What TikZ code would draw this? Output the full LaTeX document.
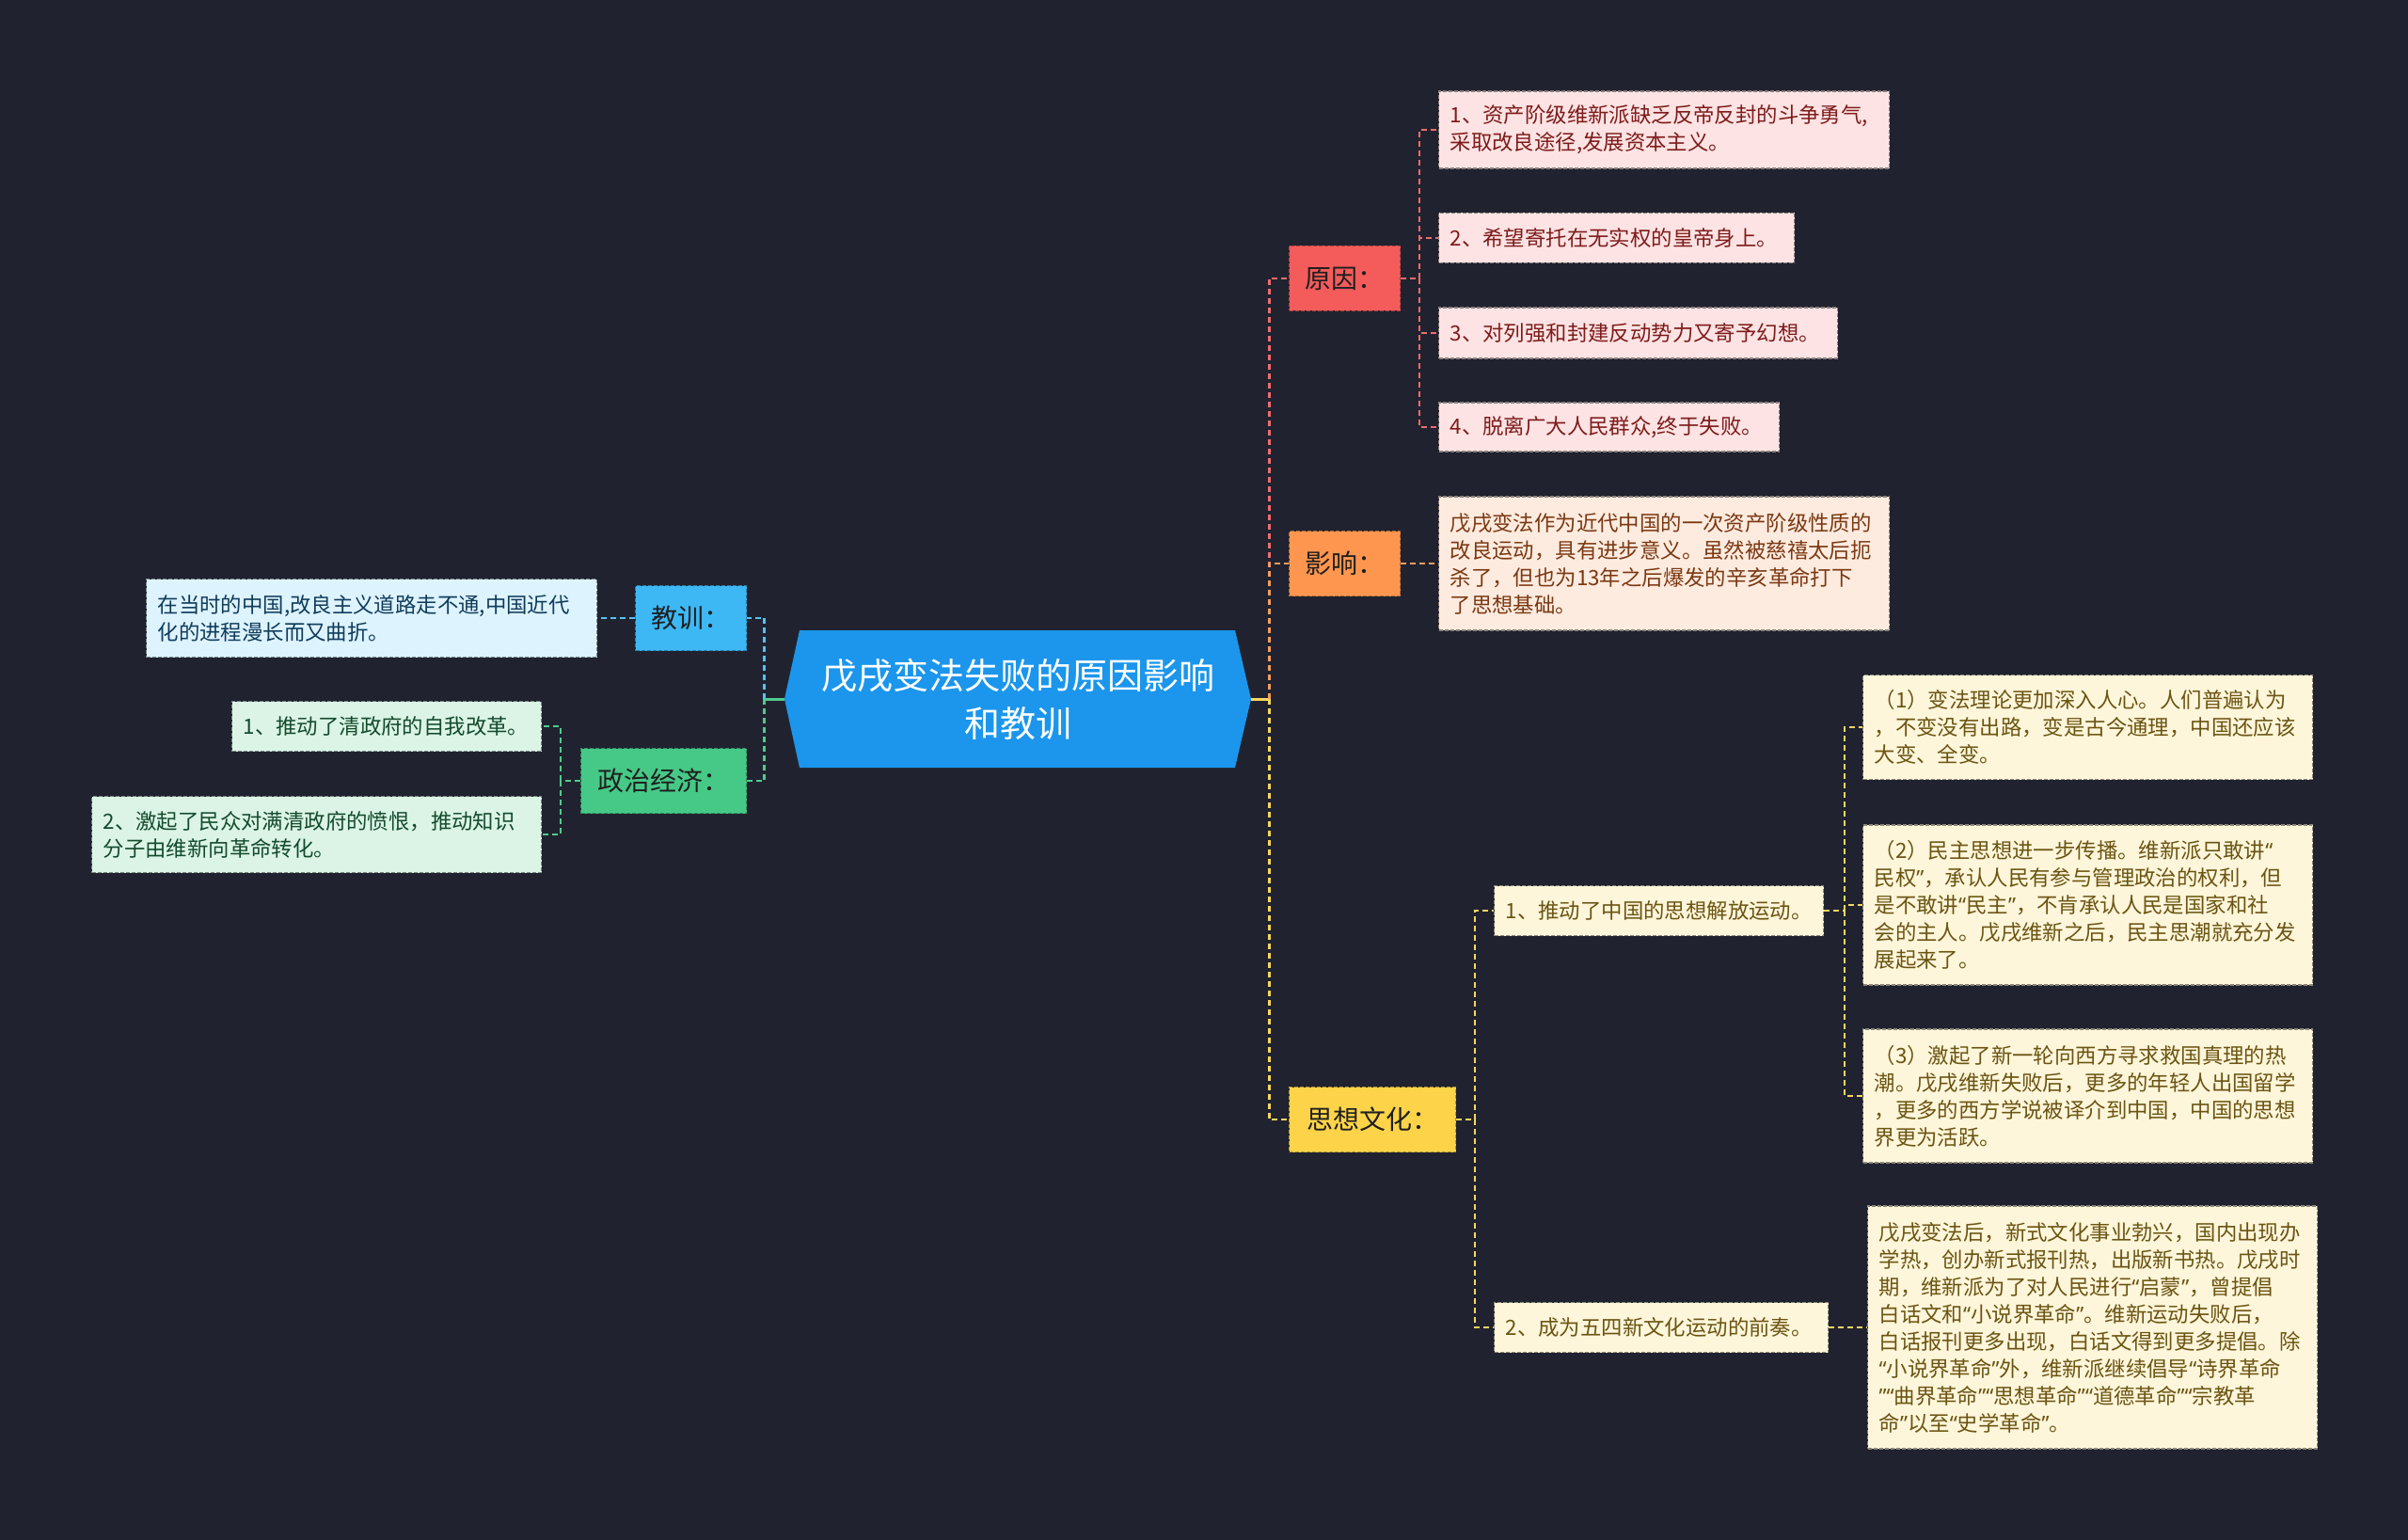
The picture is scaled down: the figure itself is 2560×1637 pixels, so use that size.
\documentclass[tikz,border=0pt]{standalone}
\usepackage{fontspec}
\newfontfamily\cjk{Noto Sans CJK SC}
\newfontfamily\latn{Noto Sans}
\newcommand\oq{{\latn “}}
\newcommand\cq{{\latn ”}}

\definecolor{bgcol}{HTML}{20232F}
\definecolor{rootfill}{HTML}{1B96EC}
\definecolor{rcol}{HTML}{F45B5B}
\definecolor{ocol}{HTML}{FF964F}
\definecolor{ycol}{HTML}{FDD449}
\definecolor{bcol}{HTML}{3DB8F5}
\definecolor{gcol}{HTML}{46C987}
\definecolor{rleaf}{HTML}{FDE3E3}
\definecolor{oleaf}{HTML}{FEEBDF}
\definecolor{yleaf}{HTML}{FEF6DA}
\definecolor{bleaf}{HTML}{DDF3FE}
\definecolor{gleaf}{HTML}{DBF4E6}
\definecolor{rtext}{HTML}{7E1B1B}
\definecolor{otext}{HTML}{7A3812}
\definecolor{ytext}{HTML}{6B5413}
\definecolor{btext}{HTML}{0F3B5B}
\definecolor{gtext}{HTML}{134A2D}
\definecolor{rline}{HTML}{F06C6C}
\definecolor{oline}{HTML}{F59D5E}
\definecolor{yline}{HTML}{F7D65E}
\definecolor{bline}{HTML}{55C2F5}
\definecolor{gline}{HTML}{50CB8E}
\definecolor{labtext}{HTML}{1F1F1F}

\tikzset{
  rootbox/.style={font=\cjk\fontsize{19}{25.5}\selectfont, text=white, align=center,
    minimum width=248pt, minimum height=73pt, inner sep=0pt},
  branch/.style={font=\cjk\fontsize{14}{17}\selectfont, text=labtext, anchor=west,
    inner sep=0pt, minimum height=34.5pt, fill=#1, draw=#1!70!black,
    line width=0.6pt, dash pattern=on 2pt off 1pt},
  leaf/.style 2 args={font=\cjk\fontsize{11.2}{14.5}\selectfont, align=left, anchor=west,
    inner xsep=6pt, inner ysep=0pt, fill=#1, draw=#1!55!black, text=#2,
    line width=0.6pt, dash pattern=on 2pt off 1pt},
  link/.style={line width=1.25pt, dash pattern=on 3pt off 2pt},
  trunk/.style={line width=1.5pt}
}

\begin{document}
\begin{tikzpicture}[x=0.5pt,y=-0.5pt]
    \fill[bgcol] (0,0) rectangle (2560,1637);
    \useasboundingbox (0,0) rectangle (2560,1637);
    % centro
    \fill[rootfill] (850,670) -- (1313,670) -- (1330,743) -- (1313,816) -- (850,816) -- (834,743) -- cycle;
    \node[rootbox] (root) at (1082,743) {戊戌变法失败的原因影响\\和教训};
    % ramos
    \node[branch=rcol, minimum width=59pt] (cause) at (1370,296) {原因：};
    \node[branch=ocol, minimum width=59pt] (impact) at (1370,599) {影响：};
    \node[branch=ycol, minimum width=88.5pt] (thought) at (1370,1190) {思想文化：};
    \node[branch=bcol, minimum width=59pt] (lesson) at (675,657) {教训：};
    \node[branch=gcol, minimum width=88pt] (polit) at (617,830) {政治经济：};
    % 原因
    \node[leaf={rleaf}{rtext}, text width=227.5pt, minimum height=41pt] (c1) at (1529,138) {1、资产阶级维新派缺乏反帝反封的斗争勇气,\\采取改良途径,发展资本主义。};
    \node[leaf={rleaf}{rtext}, text width=177pt, minimum height=26.5pt] (c2) at (1529,253) {2、希望寄托在无实权的皇帝身上。};
    \node[leaf={rleaf}{rtext}, text width=200pt, minimum height=27pt] (c3) at (1529,354) {3、对列强和封建反动势力又寄予幻想。};
    \node[leaf={rleaf}{rtext}, text width=169pt, minimum height=26pt] (c4) at (1529,454) {4、脱离广大人民群众,终于失败。};
    % 影响
    \node[leaf={oleaf}{otext}, text width=227.5pt, minimum height=71pt] (i1) at (1529,599) {戊戌变法作为近代中国的一次资产阶级性质的\\改良运动，具有进步意义。虽然被慈禧太后扼\\杀了，但也为13年之后爆发的辛亥革命打下\\了思想基础。};
    % 思想文化
    \node[leaf={yleaf}{ytext}, text width=163pt, minimum height=26.5pt] (tA) at (1588,968) {1、推动了中国的思想解放运动。};
    \node[leaf={yleaf}{ytext}, text width=165.5pt, minimum height=26.5pt] (tB) at (1588,1411) {2、成为五四新文化运动的前奏。};
    \node[leaf={yleaf}{ytext}, text width=227pt, minimum height=55.5pt] (a1) at (1980,773) {（1）变法理论更加深入人心。人们普遍认为\\，不变没有出路，变是古今通理，中国还应该\\大变、全变。};
    \node[leaf={yleaf}{ytext}, text width=227pt, minimum height=85pt] (a2) at (1980,962) {（2）民主思想进一步传播。维新派只敢讲\oq\\民权\cq，承认人民有参与管理政治的权利，但\\是不敢讲\oq 民主\cq，不肯承认人民是国家和社\\会的主人。戊戌维新之后，民主思潮就充分发\\展起来了。};
    \node[leaf={yleaf}{ytext}, text width=227pt, minimum height=71pt] (a3) at (1980,1165) {（3）激起了新一轮向西方寻求救国真理的热\\潮。戊戌维新失败后，更多的年轻人出国留学\\，更多的西方学说被译介到中国，中国的思想\\界更为活跃。};
    \node[leaf={yleaf}{ytext}, text width=227pt, minimum height=129pt] (b1) at (1985,1411) {戊戌变法后，新式文化事业勃兴，国内出现办\\学热，创办新式报刊热，出版新书热。戊戌时\\期，维新派为了对人民进行\oq 启蒙\cq，曾提倡\\白话文和\oq 小说界革命\cq。维新运动失败后，\\白话报刊更多出现，白话文得到更多提倡。除\\\oq 小说界革命\cq 外，维新派继续倡导\oq 诗界革命\\\cq\oq 曲界革命\cq\oq 思想革命\cq\oq 道德革命\cq\oq 宗教革\\命\cq 以至\oq 史学革命\cq。};
    % 教训
    \node[leaf={bleaf}{btext}, text width=227.5pt, minimum height=41.5pt] (l1) at (155,657) {在当时的中国,改良主义道路走不通,中国近代\\化的进程漫长而又曲折。};
    % 政治经济
    \node[leaf={gleaf}{gtext}, text width=152.5pt, minimum height=26.5pt] (p1) at (246,772) {1、推动了清政府的自我改革。};
    \node[leaf={gleaf}{gtext}, text width=227pt, minimum height=40.5pt] (p2) at (97,887) {2、激起了民众对满清政府的愤恨，推动知识\\分子由维新向革命转化。};
    % ligacoes direita
    \draw[trunk, yline] (root.east) -- ++(19,0) coordinate (rhub);
    \draw[link, rline] (rhub) |- (cause.west);
    \draw[link, oline] (rhub) |- (impact.west);
    \draw[link, yline] (rhub) |- (thought.west);
    % ligacoes esquerda
    \draw[trunk, gline] (root.west) -- ++(-21,0) coordinate (lhub);
    \draw[link, bline] (lhub) |- (lesson.east);
    \draw[link, gline] (lhub) |- (polit.east);
    % 原因
    \draw[link, rline] (cause.east) -- ++(20,0) coordinate (chub);
    \foreach \n in {c1,c2,c3,c4} \draw[link, rline] (chub) |- (\n.west);
    % 影响
    \draw[link, oline] (impact.east) -- (i1.west);
    % 思想文化
    \draw[link, yline] (thought.east) -- ++(20,0) coordinate (thub);
    \foreach \n in {tA,tB} \draw[link, yline] (thub) |- (\n.west);
    \draw[link, yline] (tA.east) -- ++(22,0) coordinate (ahub);
    \foreach \n in {a1,a2,a3} \draw[link, yline] (ahub) |- (\n.west);
    \draw[link, yline] (tB.east) -- (b1.west);
    % 教训
    \draw[link, bline] (lesson.west) -- (l1.east);
    % 政治经济
    \draw[link, gline] (polit.west) -- ++(-21,0) coordinate (phub);
    \foreach \n in {p1,p2} \draw[link, gline] (phub) |- (\n.east);
\end{tikzpicture}
\end{document}
